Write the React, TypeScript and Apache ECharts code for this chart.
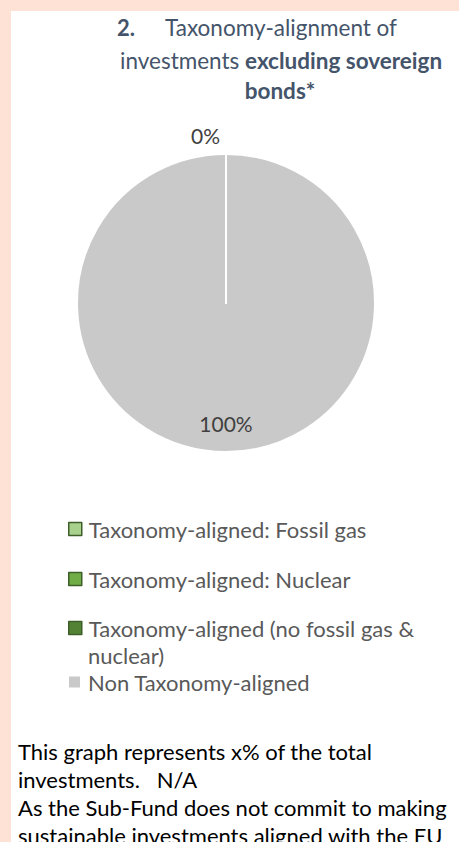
import React, { useEffect, useRef } from "react";
import * as echarts from "echarts";

const TITLE_NUMBER = "2.";
const TITLE_LINE1 = "Taxonomy-alignment of";
const TITLE_LINE2_REGULAR = "investments ";
const TITLE_LINE2_BOLD = "excluding sovereign";
const TITLE_LINE3_BOLD = "bonds*";

const CATEGORIES = [
  "Taxonomy-aligned: Fossil gas",
  "Taxonomy-aligned: Nuclear",
  "Taxonomy-aligned (no fossil gas & nuclear)",
  "Non Taxonomy-aligned",
];
const VALUES = [0, 0, 0, 100];
const COLORS = ["#a9d18e", "#70ad47", "#548235", "#c9c9c9"];
const LEGEND_LABELS = [
  "Taxonomy-aligned: Fossil gas",
  "Taxonomy-aligned: Nuclear",
  "Taxonomy-aligned (no fossil gas &",
  "Non Taxonomy-aligned",
];
const LEGEND_WRAP = "nuclear)";
const FOOTNOTE_LINES = [
  "This graph represents x% of the total",
  "investments.   N/A",
  "As the Sub-Fund does not commit to making",
  "sustainable investments aligned with the EU",
];

const FONT = "Lato, 'Open Sans', sans-serif";
const TITLE_COLOR = "#44546a";
const LEGEND_COLOR = "#595959";
const BORDER_GREEN = "#3e5f29";

export default function App() {
  const ref = useRef<HTMLDivElement>(null);
  useEffect(() => {
    if (!ref.current) return;
    const chart = echarts.init(ref.current, null, { renderer: "svg" });

    // draw order: the full slice first so zero slices draw their white edge on top
    const order = [3, 0, 1, 2];
    const seriesData = order.map((i) => ({
      name: CATEGORIES[i],
      value: VALUES[i],
      itemStyle: { color: COLORS[i] },
      label: { show: i === 0 || i === 3, position: i === 3 ? "inside" : "outside" },
    }));

    const legendTops = [516, 566, 615, 669];
    const legends = CATEGORIES.map((name, i) => {
      const last = i === 3;
      return {
        data: [
          {
            name,
            icon: "rect",
            itemStyle: last
              ? { color: COLORS[i], borderWidth: 0 }
              : { color: COLORS[i], borderColor: BORDER_GREEN, borderWidth: 1.5 },
          },
        ],
        left: last ? 69 : 68,
        top: legendTops[i],
        padding: 0,
        itemWidth: last ? 11 : 13,
        itemHeight: last ? 11 : 13,
        selectedMode: false,
        formatter: () => LEGEND_LABELS[i],
        textStyle: {
          fontFamily: FONT,
          fontSize: 22,
          lineHeight: 26,
          color: LEGEND_COLOR,
          padding: [0, 0, 0, last ? 3 : 2],
        },
      };
    });

    const option: any = {
      animation: false,
      backgroundColor: "#fde2d5",
      graphic: [
        { type: "rect", shape: { x: 11, y: 11, width: 448, height: 831 }, style: { fill: "#ffffff" }, z: -10 },
        {
          type: "text",
          style: { text: TITLE_NUMBER, x: 117, y: 27, fill: TITLE_COLOR, font: `bold 22px ${FONT}`, textVerticalAlign: "middle" },
        },
        {
          type: "text",
          style: { text: TITLE_LINE1, x: 165, y: 27, fill: TITLE_COLOR, font: `22.5px ${FONT}`, textVerticalAlign: "middle" },
        },
        {
          type: "text",
          style: {
            text: `{r|${TITLE_LINE2_REGULAR}}{b|${TITLE_LINE2_BOLD}}`,
            x: 120,
            y: 60,
            textVerticalAlign: "middle",
            rich: {
              r: { fill: TITLE_COLOR, fontFamily: FONT, fontSize: 22.5 },
              b: { fill: TITLE_COLOR, fontFamily: FONT, fontSize: 22.5, fontWeight: "bold" },
            },
          },
        },
        {
          type: "text",
          style: { text: TITLE_LINE3_BOLD, x: 280, y: 90, fill: TITLE_COLOR, font: `bold 22.5px ${FONT}`, textAlign: "center", textVerticalAlign: "middle" },
        },
        {
          type: "text",
          style: { text: LEGEND_WRAP, x: 88, y: 655, fill: LEGEND_COLOR, font: `22px ${FONT}`, textVerticalAlign: "middle" },
        },
        ...FOOTNOTE_LINES.map((t, i) => ({
          type: "text",
          style: { text: t, x: 18, y: 751 + i * 28, fill: "#000000", font: `22px ${FONT}`, textVerticalAlign: "middle" },
        })),
      ],
      legend: legends,
      series: [
        {
          type: "pie",
          center: [226, 303],
          radius: 149,
          startAngle: 90,
          clockwise: true,
          avoidLabelOverlap: false,
          silent: true,
          itemStyle: { borderColor: "#ffffff", borderWidth: 2 },
          label: {
            formatter: (p: any) => `${p.percent}%`,
            fontFamily: FONT,
            fontSize: 21,
            color: "#404040",
          },
          labelLine: { show: false, length: 0, length2: 0 },
          labelLayout: (p: any) => {
            if (p.dataIndex === 0) return { dy: 43 };
            if (p.dataIndex === 1) return { dx: -40, dy: -19 };
            return {};
          },
          data: seriesData,
        },
      ],
    };
    chart.setOption(option);
    return () => chart.dispose();
  }, []);
  return <div ref={ref} style={{ position: "absolute", left: 0, top: 0, width: 459, height: 842 }} />;
}
